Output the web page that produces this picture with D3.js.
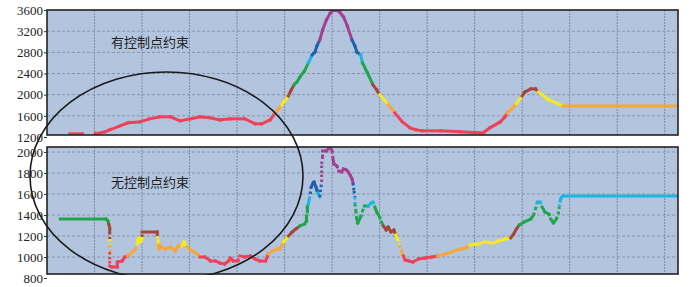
<!DOCTYPE html>
<html lang="zh">
<head>
<meta charset="utf-8">
<title>elevation</title>
<style>
  body { margin: 0; background: #fff; }
  svg { display: block; }
  .axis text { font-family: "Liberation Serif", "DejaVu Serif", serif; font-size: 13px; fill: #222; }
  .axis path { display: none; }
  .axis line { stroke: #333; }
  .note { font-family: "Noto Sans CJK SC", sans-serif; font-size: 13px; fill: #222; }
</style>
</head>
<body>
<div id="chart"></div>
<script src="https://cdn.jsdelivr.net/npm/d3@7"></script>
<script>
// distance along the route (0..664) and the value for each panel
var topDist = [24,37,39,48,51,61,66,77,85,98,108,119,130,140,151,161,172,182,193,208,219,226,235,240,243,247,251,254,257,260,263,266,271,275,279,282,284,287,290,294,298,301,305,308,312,316,321,324,326,330,332,337,343,347,350,355,359,363,366,374,382,388,395,414,435,459,466,477,482,484,488,494,500,503,509,514,517,528,538,543,663];
var topVal = [1260,1260,1190,1190,1262,1298,1336,1411,1468,1486,1543,1581,1581,1505,1543,1581,1562,1524,1543,1543,1449,1449,1524,1656,1713,1807,1902,1977,2090,2185,2241,2330,2450,2600,2751,2807,2920,3034,3223,3411,3540,3590,3590,3560,3470,3300,3034,2920,2807,2751,2600,2420,2185,2090,1996,1902,1807,1730,1656,1486,1373,1336,1317,1317,1300,1279,1373,1486,1581,1656,1713,1830,1977,2053,2109,2109,2053,1902,1826,1788,1788];

var botDist = [14,62,64,65,66,66,66,66,66,66,66,68,74,74,79,82,85,90,93,95,96,97,98,99,100,100,116,116,117,117,118,119,124,130,135,138,142,144,147,153,158,161,166,172,177,182,187,191,193,196,201,203,208,214,219,224,230,233,237,242,245,249,252,254,258,262,266,271,273,273,274,274,275,276,277,278,280,281,283,284,285,287,289,289,289,290,290,294,298,300,301,302,305,307,310,312,315,317,319,321,322,323,324,324,325,326,327,330,332,334,338,341,343,345,347,350,352,354,357,359,362,365,367,369,371,373,375,377,381,385,391,398,405,411,419,426,435,441,445,454,461,469,475,482,488,491,494,497,502,509,512,514,516,519,521,524,528,530,533,536,538,539,540,541,543,663];
var botVal = [1362,1362,1343,1314,1276,1238,1171,1114,1048,962,914,905,905,952,962,1000,1010,1048,1076,1124,1171,1143,1181,1152,1190,1238,1238,1200,1152,1114,1076,1105,1076,1095,1057,1105,1105,1143,1095,1057,1029,1000,1000,962,962,943,933,962,990,962,962,1010,1000,1010,981,962,962,1029,1057,1076,1076,1143,1171,1200,1238,1267,1295,1314,1343,1381,1429,1476,1505,1552,1600,1667,1705,1714,1667,1638,1610,1571,1714,1800,1886,1952,2010,2010,2048,2010,1933,1886,1867,1819,1810,1838,1829,1810,1781,1743,1705,1629,1571,1505,1438,1362,1324,1381,1438,1486,1486,1514,1524,1476,1429,1381,1333,1295,1257,1286,1238,1257,1210,1171,1114,1057,1010,971,962,952,981,990,1000,1010,1029,1048,1076,1086,1114,1124,1143,1133,1152,1171,1181,1219,1267,1305,1333,1362,1400,1457,1524,1524,1476,1429,1410,1362,1324,1362,1410,1476,1533,1562,1581,1581];

var topTicks = [1200, 1600, 2000, 2400, 2800, 3200, 3600];
var botTicks = [800, 1000, 1200, 1400, 1600, 1800, 2000];
var gridDist = [50, 100, 150, 200, 250, 300, 350, 400, 450, 500, 550, 600, 650];

var palette = ["#ef4157", "#f7a73a", "#f6ea1c", "#a4463b", "#1ea64a", "#1bb6e4", "#2160ad", "#a4408f"];
var topBreaks = [1680, 1800, 1990, 2200, 2620, 2770, 3030];
var botBreaks = [1008, 1110, 1195, 1300, 1500, 1600, 1720];

var width = 695, height = 287;
var left = 47, right = 678;

var svg = d3.select('#chart').append('svg')
    .attr('width', width)
    .attr('height', height);

var x = d3.scaleLinear().domain([0, 664]).range([left, right]);

function panel(opt) {
    var y = d3.scaleLinear().domain(opt.domain).range(opt.range);
    var color = d3.scaleThreshold().domain(opt.breaks).range(palette);
    var g = svg.append('g');

    g.append('rect')
        .attr('x', left).attr('y', opt.top)
        .attr('width', right - left).attr('height', opt.bottom - opt.top)
        .attr('fill', '#b3c5de');

    var clipId = 'clip' + opt.top;
    svg.append('clipPath').attr('id', clipId).append('rect')
        .attr('x', left).attr('y', opt.top)
        .attr('width', right - left).attr('height', opt.bottom - opt.top);

    // grid
    g.selectAll('.hgrid').data(opt.ticks.filter(function (t) {
        return y(t) > opt.top + 2 && y(t) < opt.bottom - 2;
    })).enter().append('line')
        .attr('x1', left).attr('x2', right)
        .attr('y1', function (d) { return y(d); })
        .attr('y2', function (d) { return y(d); })
        .attr('stroke', '#8694aa').attr('stroke-width', 1)
        .attr('stroke-dasharray', '3,2');

    g.selectAll('.vgrid').data(gridDist).enter().append('line')
        .attr('x1', function (d) { return x(d); })
        .attr('x2', function (d) { return x(d); })
        .attr('y1', opt.top).attr('y2', opt.bottom)
        .attr('stroke', '#7d8aa0').attr('stroke-width', 1)
        .attr('stroke-dasharray', '2,1');

    // coloured route line, one segment at a time
    var segs = [];
    for (var i = 0; i < opt.dist.length - 1; i++) {
        segs.push({ x0: opt.dist[i], v0: opt.val[i], x1: opt.dist[i + 1], v1: opt.val[i + 1] });
    }
    g.append('g').attr('clip-path', 'url(#' + clipId + ')')
        .selectAll('line').data(segs).enter().append('line')
        .attr('x1', function (d) { return x(d.x0); })
        .attr('y1', function (d) { return y(d.v0); })
        .attr('x2', function (d) { return x(d.x1); })
        .attr('y2', function (d) { return y(d.v1); })
        .attr('stroke', function (d) { return color((d.v0 + d.v1) / 2); })
        .attr('stroke-width', 3)
        .attr('stroke-linecap', function (d) {
            return opt.dotted && steep(d) ? 'butt' : 'square';
        })
        .attr('stroke-dasharray', function (d) {
            return opt.dotted && steep(d) ? '2.5,2.5' : null;
        });

    function steep(d) {
        return Math.abs(x(d.x1) - x(d.x0)) < 2.5 && Math.abs(y(d.v1) - y(d.v0)) > 5;
    }

    g.append('rect')
        .attr('x', left).attr('y', opt.top)
        .attr('width', right - left).attr('height', opt.bottom - opt.top)
        .attr('fill', 'none').attr('stroke', '#222').attr('stroke-width', 1.6);

    g.append('g')
        .attr('class', 'axis')
        .attr('transform', 'translate(' + left + ',0)')
        .call(d3.axisLeft(y).tickValues(opt.ticks).tickSize(3).tickPadding(1).tickFormat(d3.format('d')));

    g.append('text')
        .attr('class', 'note')
        .attr('x', 111).attr('y', opt.labelY)
        .text(opt.label);
}

panel({
    dist: topDist, val: topVal, ticks: topTicks, breaks: topBreaks,
    domain: [1200, 3600], range: [137, 10], top: 10, bottom: 135,
    label: '有控制点约束', labelY: 47, dotted: false
});

panel({
    dist: botDist, val: botVal, ticks: botTicks, breaks: botBreaks,
    domain: [800, 2000], range: [278, 152], top: 147, bottom: 274,
    label: '无控制点约束', labelY: 187, dotted: true
});

// hand-drawn ring over the left part of both panels
svg.append('clipPath').attr('id', 'ringclip').append('rect')
    .attr('x', 0).attr('y', 0).attr('width', width).attr('height', 275);
svg.append('ellipse')
    .attr('clip-path', 'url(#ringclip)')
    .attr('cx', 166.5).attr('cy', 176)
    .attr('rx', 136.5).attr('ry', 104)
    .attr('fill', 'none')
    .attr('stroke', '#1a1a1a')
    .attr('stroke-width', 1.6);
</script>
</body>
</html>
